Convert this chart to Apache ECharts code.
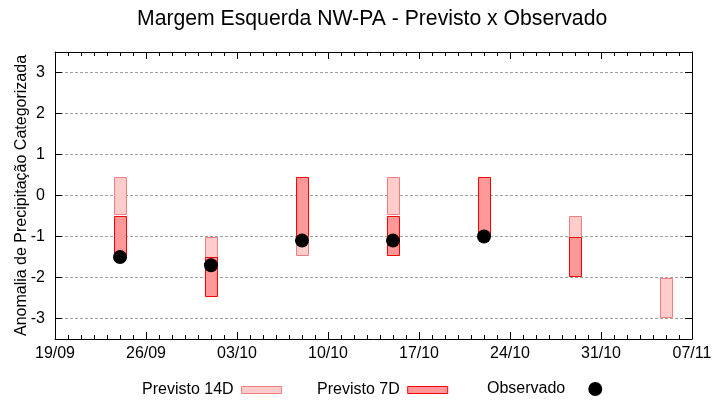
<!DOCTYPE html>
<html>
<head>
<meta charset="utf-8">
<script src="https://cdn.jsdelivr.net/npm/echarts@6/dist/echarts.min.js"></script>
<style>html,body{margin:0;padding:0;background:#fff}#c{width:720px;height:400px}</style>
</head>
<body>
<div id="c"></div>
<script>
// ---- data ----
const startDate = '19/09';
const year = 2023;
const xTickLabels = ['19/09','26/09','03/10','10/10','17/10','24/10','31/10','07/11'];
const yTickValues = [-3,-2,-1,0,1,2,3];
const dates = ['24/09','01/10','08/10','15/10','22/10','29/10','05/11'];
// [low, high] of each forecast box (null = none)
const prev14D = [[-0.45,0.45],[-1.5,-1.0],[-1.45,-0.5],[-0.45,0.45],null,[-1.0,-0.5],[-2.95,-2.0]];
const prev7D  = [[-1.5,-0.5],[-2.45,-1.5],[-1.0,0.45],[-1.45,-0.5],[-1.0,0.45],[-1.95,-1.0],null];
const observado = [-1.5,-1.7,-1.1,-1.1,-1.0,null,null];

// ---- helpers ----
function dayOffset(s){
  const [d,m] = s.split('/').map(Number);
  const [d0,m0] = startDate.split('/').map(Number);
  return (Date.UTC(year,m-1,d) - Date.UTC(year,m0-1,d0)) / 86400000;
}
const xs = dates.map(dayOffset);
const xMax = dayOffset(xTickLabels[xTickLabels.length-1]);
function boxData(arr){
  const out = [];
  arr.forEach((r,i)=>{ if(r) out.push([xs[i], r[0], r[1]]); });
  return out;
}
const obsData = [];
observado.forEach((v,i)=>{ if(v!==null) obsData.push([xs[i], v]); });

const C14 = {fill:'#ffcccc', stroke:'#f08080'};
const C7 = {fill:'#ff9999', stroke:'#ff0000'};
const BOX_W = 0.95;
function makeRender(col){
  return function(params, api){
    const x = api.value(0), lo = api.value(1), hi = api.value(2);
    const p1 = api.coord([x, hi]), p2 = api.coord([x, lo]);
    const w = api.size([BOX_W, 0])[0];
    return {type:'rect', shape:{x:Math.round(p1[0]-w/2)+0.5, y:Math.round(p1[1])+0.5, width:Math.round(w), height:Math.round(p2[1]-p1[1])},
      style:{fill:col.fill, stroke:col.stroke, lineWidth:1}};
  };
}
const FONT = "'Liberation Sans', Arial, sans-serif";

const xAxisBase = {
  type:'value', min:0, max:xMax, interval:7,
  axisLine:{show:true, onZero:false, lineStyle:{color:'#000', width:1}},
  axisTick:{show:true, inside:true, length:7, lineStyle:{color:'#000'}},
  minorTick:{show:true, splitNumber:7, length:4, lineStyle:{color:'#000'}},
  splitLine:{show:false}
};
const yAxisBase = {
  type:'value', min:-3.5, max:3.5,
  axisLine:{show:true, onZero:false, lineStyle:{color:'#000', width:1}},
  axisTick:{show:true, inside:true, length:7, customValues:yTickValues, lineStyle:{color:'#000'}},
};

const legendCommon = {orient:'horizontal', align:'right', itemWidth:40, itemHeight:7, padding:0, top:382,
  textStyle:{fontFamily:FONT, fontSize:16, color:'#000', padding:[0,3,0,0]}};

const option = {
  animation:false,
  backgroundColor:'#fff',
  title:{text:'Margem Esquerda NW-PA - Previsto x Observado', left:137, top:9, padding:0,
    textStyle:{fontFamily:FONT, fontSize:21.2, fontWeight:'normal', color:'#000'}},
  grid:{left:55, right:28, top:52, bottom:61, containLabel:false, outerBoundsMode:'none'},
  legend:[
    Object.assign({}, legendCommon, {left:142, data:[{name:'Previsto 14D', icon:'rect', itemStyle:{color:C14.fill, borderColor:C14.stroke, borderWidth:1}}]}),
    Object.assign({}, legendCommon, {left:317, data:[{name:'Previsto 7D', icon:'rect', itemStyle:{color:C7.fill, borderColor:C7.stroke, borderWidth:1}}]}),
    Object.assign({}, legendCommon, {left:487, itemWidth:44, itemHeight:14, top:381, data:[{name:'Observado', icon:'circle', itemStyle:{color:'#000'}}]})
  ],
  xAxis:[
    Object.assign({}, xAxisBase, {position:'bottom',
      axisLabel:{show:true, margin:7, fontFamily:FONT, fontSize:16, color:'#000', formatter:v=>xTickLabels[Math.round(v/7)] || ''}}),
    Object.assign({}, xAxisBase, {position:'top', axisLabel:{show:false}})
  ],
  yAxis:[
    Object.assign({}, yAxisBase, {position:'left',
      name:'Anomalia de Precipitação Categorizada', nameLocation:'middle', nameRotate:90, nameGap:25, nameMoveOverlap:false,
      nameTextStyle:{fontFamily:FONT, fontSize:16, color:'#000'},
      axisLabel:{show:true, margin:10, customValues:yTickValues, fontFamily:FONT, fontSize:16, color:'#000'},
      splitLine:{show:true, lineStyle:{color:'#a0a0a0', type:[3,2], width:1}}}),
    Object.assign({}, yAxisBase, {position:'right', axisLabel:{show:false}, splitLine:{show:false}})
  ],
  series:[
    {name:'Previsto 14D', type:'custom', xAxisIndex:0, yAxisIndex:0, renderItem:makeRender(C14), data:boxData(prev14D),
      encode:{x:0, y:[1,2]}, z:2, itemStyle:{color:C14.fill, borderColor:C14.stroke}},
    {name:'Previsto 7D', type:'custom', xAxisIndex:0, yAxisIndex:0, renderItem:makeRender(C7), data:boxData(prev7D),
      encode:{x:0, y:[1,2]}, z:3, itemStyle:{color:C7.fill, borderColor:C7.stroke}},
    {name:'Observado', type:'scatter', xAxisIndex:0, yAxisIndex:0, data:obsData, symbol:'circle', symbolSize:14,
      itemStyle:{color:'#000', opacity:1}, emphasis:{disabled:true}, z:5}
  ]
};
const chart = echarts.init(document.getElementById('c'), null, {renderer:'canvas'});
chart.setOption(option);
</script>
</body>
</html>
